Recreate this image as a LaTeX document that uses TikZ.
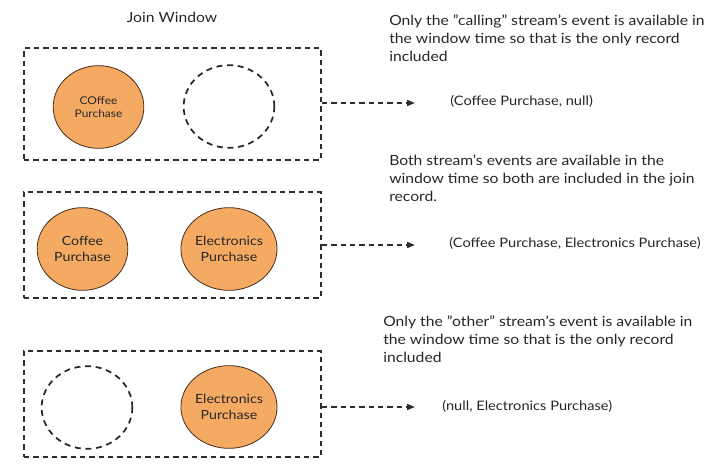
\documentclass[tikz,border=0pt]{standalone}
\usepackage{fontspec}
\setmainfont{Lato}[FakeStretch=1.12]
\usetikzlibrary{arrows.meta,shapes.geometric}
\definecolor{evfill}{RGB}{245,170,100}
\definecolor{evdraw}{RGB}{70,45,25}
\definecolor{dashc}{RGB}{45,45,45}
\newcommand{\sq}{\char"22\relax}
\tikzset{
  x=0.75pt,y=-0.75pt,
  winbox/.style={draw=dashc,line width=1.3pt,dash pattern=on 4pt off 3pt},
  event/.style={ellipse,draw=evdraw,line width=0.6pt,fill=evfill,minimum width=68pt,minimum height=62pt,inner sep=0pt,align=center,text=black!85,font=\fontsize{9.5}{11.5}\selectfont},
  smallevent/.style={event,font=\fontsize{8}{9.5}\selectfont},
  emptyevent/.style={ellipse,draw=black!85,line width=1.3pt,dash pattern=on 4.5pt off 3.5pt,minimum width=68pt,minimum height=62pt,inner sep=0pt},
  connector/.style={draw=dashc,line width=1.3pt,dash pattern=on 4pt off 3pt,-{Triangle[length=6pt,width=4.5pt]}},
  desc/.style={anchor=north west,align=left,inner sep=0pt,font=\fontsize{10.5}{13.3}\selectfont,text=black!85},
  result/.style={anchor=west,inner sep=0pt,font=\fontsize{9.8}{11}\selectfont,text=black!85},
  title/.style={inner sep=0pt,font=\fontsize{10.5}{12}\selectfont,text=black!85}
}
\begin{document}
\begin{tikzpicture}
\useasboundingbox (0,0) rectangle (713,468);
\node[title] (jw) at (172,17) {Join Window};
% row 1
\node[winbox,minimum width=222.75pt,minimum height=84pt,inner sep=0pt] (b1) at (172.5,104) {};
\node[smallevent] (c1) at (98.5,107) {COffee\\Purchase};
\node[emptyevent] (e1) at (229,106.5) {};
\coordinate (t1) at (415,103);
\draw[connector] (b1.east |- t1) -- (t1);
\node[result] (r1) at (450,101) {(Coffee Purchase, null)};
\node[desc] (d1) at (389,15) {Only the \sq calling\sq\ stream's event is available in\\the window time so that is the only record\\included};
% row 2
\node[winbox,minimum width=222.75pt,minimum height=79.5pt,inner sep=0pt] (b2) at (172.5,245) {};
\node[event] (c2) at (82.5,249) {Coffee\\Purchase};
\node[event] (x2) at (229,249) {Electronics\\Purchase};
\coordinate (t2) at (415,245);
\draw[connector] (b2.east |- t2) -- (t2);
\node[result] (r2) at (449,243) {(Coffee Purchase, Electronics Purchase)};
\node[desc] (d2) at (389,155) {Both stream's events are available in the\\window time so both are included in the join\\record.};
% row 3
\node[winbox,minimum width=222.75pt,minimum height=79.5pt,inner sep=0pt] (b3) at (172.5,404) {};
\node[emptyevent] (e3) at (87,407.5) {};
\node[event] (x3) at (229,407) {Electronics\\Purchase};
\coordinate (t3) at (415,407);
\draw[connector] (b3.east |- t3) -- (t3);
\node[result] (r3) at (442,406) {(null, Electronics Purchase)};
\node[desc] (d3) at (383,316) {Only the \sq other\sq\ stream's event is available in\\the window time so that is the only record\\included};
\end{tikzpicture}
\end{document}
